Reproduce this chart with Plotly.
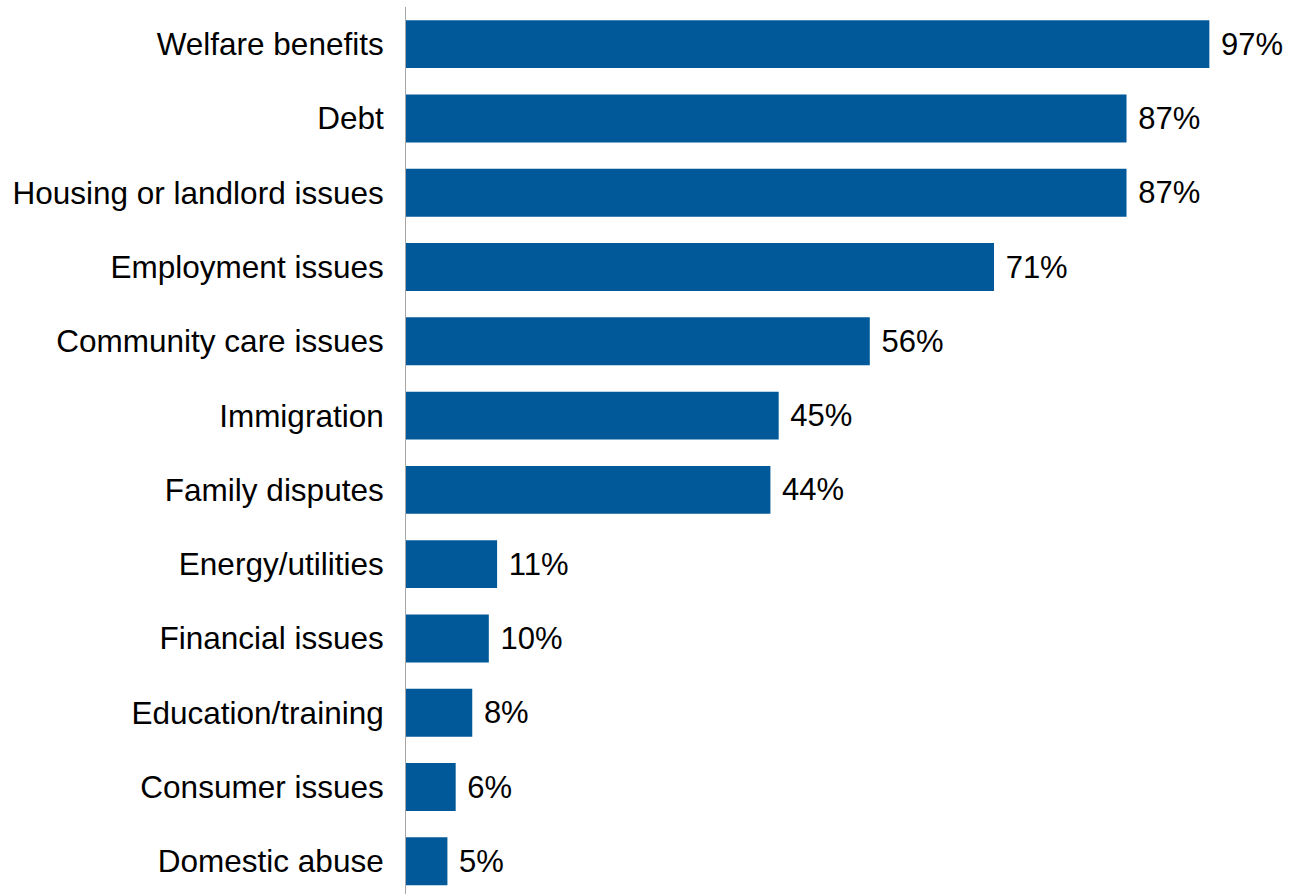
import plotly.graph_objects as go

categories = ["Welfare benefits", "Debt", "Housing or landlord issues", "Employment issues",
              "Community care issues", "Immigration", "Family disputes", "Energy/utilities",
              "Financial issues", "Education/training", "Consumer issues", "Domestic abuse"]
values = [97, 87, 87, 71, 56, 45, 44, 11, 10, 8, 6, 5]

fig = go.Figure(go.Bar(
    x=values, y=categories, orientation="h",
    marker=dict(color="#02599a", line=dict(width=0)),
    width=0.645,
    text=[f"{v}%" for v in values],
    texttemplate=" %{text}",
    textposition="outside",
    textfont=dict(size=31, color="#000000", family="Arial, Liberation Sans, sans-serif"),
    cliponaxis=False,
))

fig.update_layout(
    width=1293, height=894,
    margin=dict(l=406, r=0, t=7, b=0),
    plot_bgcolor="white", paper_bgcolor="white",
    font=dict(family="Arial, Liberation Sans, sans-serif", size=31, color="#000000"),
    showlegend=False,
    xaxis=dict(range=[0, 107.1], showgrid=False, zeroline=False, showticklabels=False,
               showline=False, fixedrange=True),
    yaxis=dict(categoryorder="array", categoryarray=categories, range=[11.44, -0.5],
               showgrid=False, zeroline=False, showline=True, linecolor="#a6a6a6", linewidth=1,
               ticks="", ticklabelstandoff=15, tickfont=dict(size=31.5, color="#000000")),
)

fig.write_html("out.html")
